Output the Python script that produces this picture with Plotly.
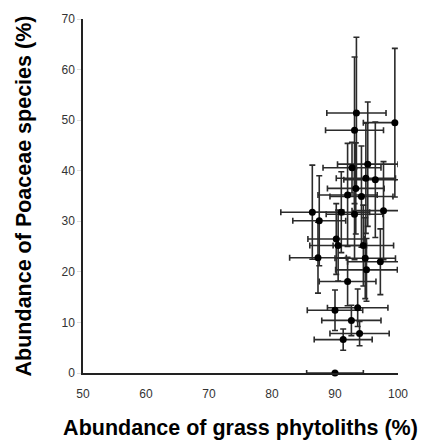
import plotly.graph_objects as go

# Grass phytolith abundance (%) vs. Poaceae species abundance (%), with SDs
phytolith_pct = [93.4, 99.5, 93.1, 92.7, 95.2, 94.9, 96.4, 93.3, 92.0, 94.2,
                 86.4, 91.0, 93.1, 97.7, 87.5, 90.2, 90.5, 94.5, 87.3, 94.8,
                 97.2, 95.0, 92.0, 90.0, 93.6, 92.6, 93.9, 91.3, 90.0]
poaceae_pct = [51.4, 49.5, 48.0, 40.6, 41.3, 38.5, 38.2, 36.5, 35.2, 34.9,
               31.8, 31.8, 31.4, 32.1, 30.1, 26.5, 25.2, 25.2, 22.8, 22.7,
               22.0, 20.4, 18.1, 12.4, 12.9, 10.4, 7.8, 6.6, 0.0]
phytolith_sd = [4.7, 5.0, 4.6, 4.6, 4.8, 4.7, 5.0, 4.5, 4.7, 5.0,
                5.0, 4.5, 4.5, 5.0, 4.2, 4.5, 4.5, 4.8, 4.5, 4.8,
                5.2, 4.9, 4.5, 4.4, 4.8, 4.7, 4.7, 4.6, 4.5]
poaceae_sd = [15.0, 14.7, 14.5, 5.0, 12.3, 10.9, 11.4, 9.0, 10.2, 10.0,
              9.3, 8.0, 9.0, 9.7, 8.9, 7.0, 7.0, 8.0, 7.0, 8.0,
              6.5, 6.2, 4.8, 4.0, 3.7, 3.0, 2.4, 2.1, 0.0]

x_ticks = [50, 60, 70, 80, 90, 100]
y_ticks = [0, 10, 20, 30, 40, 50, 60, 70]

bar_color = "#2b2b2b"

fig = go.Figure()
fig.add_trace(go.Scatter(
    x=phytolith_pct,
    y=poaceae_pct,
    mode="markers",
    marker=dict(color="black", size=7),
    error_x=dict(type="data", array=phytolith_sd, visible=True,
                 color=bar_color, thickness=1.6, width=3),
    error_y=dict(type="data", array=poaceae_sd, visible=True,
                 color=bar_color, thickness=1.6, width=3),
    cliponaxis=False,
    showlegend=False,
))

axis_font = dict(family="Liberation Sans, Arial, sans-serif", size=12, color="#333333")
title_font = dict(family="Liberation Sans, Arial, sans-serif", size=21.5, color="black")

fig.update_layout(
    width=436,
    height=448,
    margin=dict(l=83, r=38, t=15, b=75),
    paper_bgcolor="white",
    plot_bgcolor="white",
    xaxis=dict(
        range=[50, 100],
        tickvals=x_ticks,
        ticktext=[str(v) for v in x_ticks],
        showgrid=False,
        zeroline=False,
        showline=True,
        linecolor="#222",
        linewidth=1.5,
        ticks="outside",
        ticklen=9,
        tickcolor="rgba(0,0,0,0)",
        tickfont=axis_font,
        title=dict(text="<b>Abundance of grass phytoliths (%)</b>",
                   font=title_font, standoff=20),
    ),
    yaxis=dict(
        range=[0, 70],
        tickvals=y_ticks,
        ticktext=[str(v) for v in y_ticks],
        showgrid=False,
        zeroline=False,
        showline=True,
        linecolor="#222",
        linewidth=1.5,
        ticks="outside",
        ticklen=4,
        tickcolor="#ddd",
        tickfont=axis_font,
        title=dict(text="<b>Abundance of Poaceae species (%)</b>",
                   font=title_font, standoff=24),
    ),
)

fig.write_html("out.html")
